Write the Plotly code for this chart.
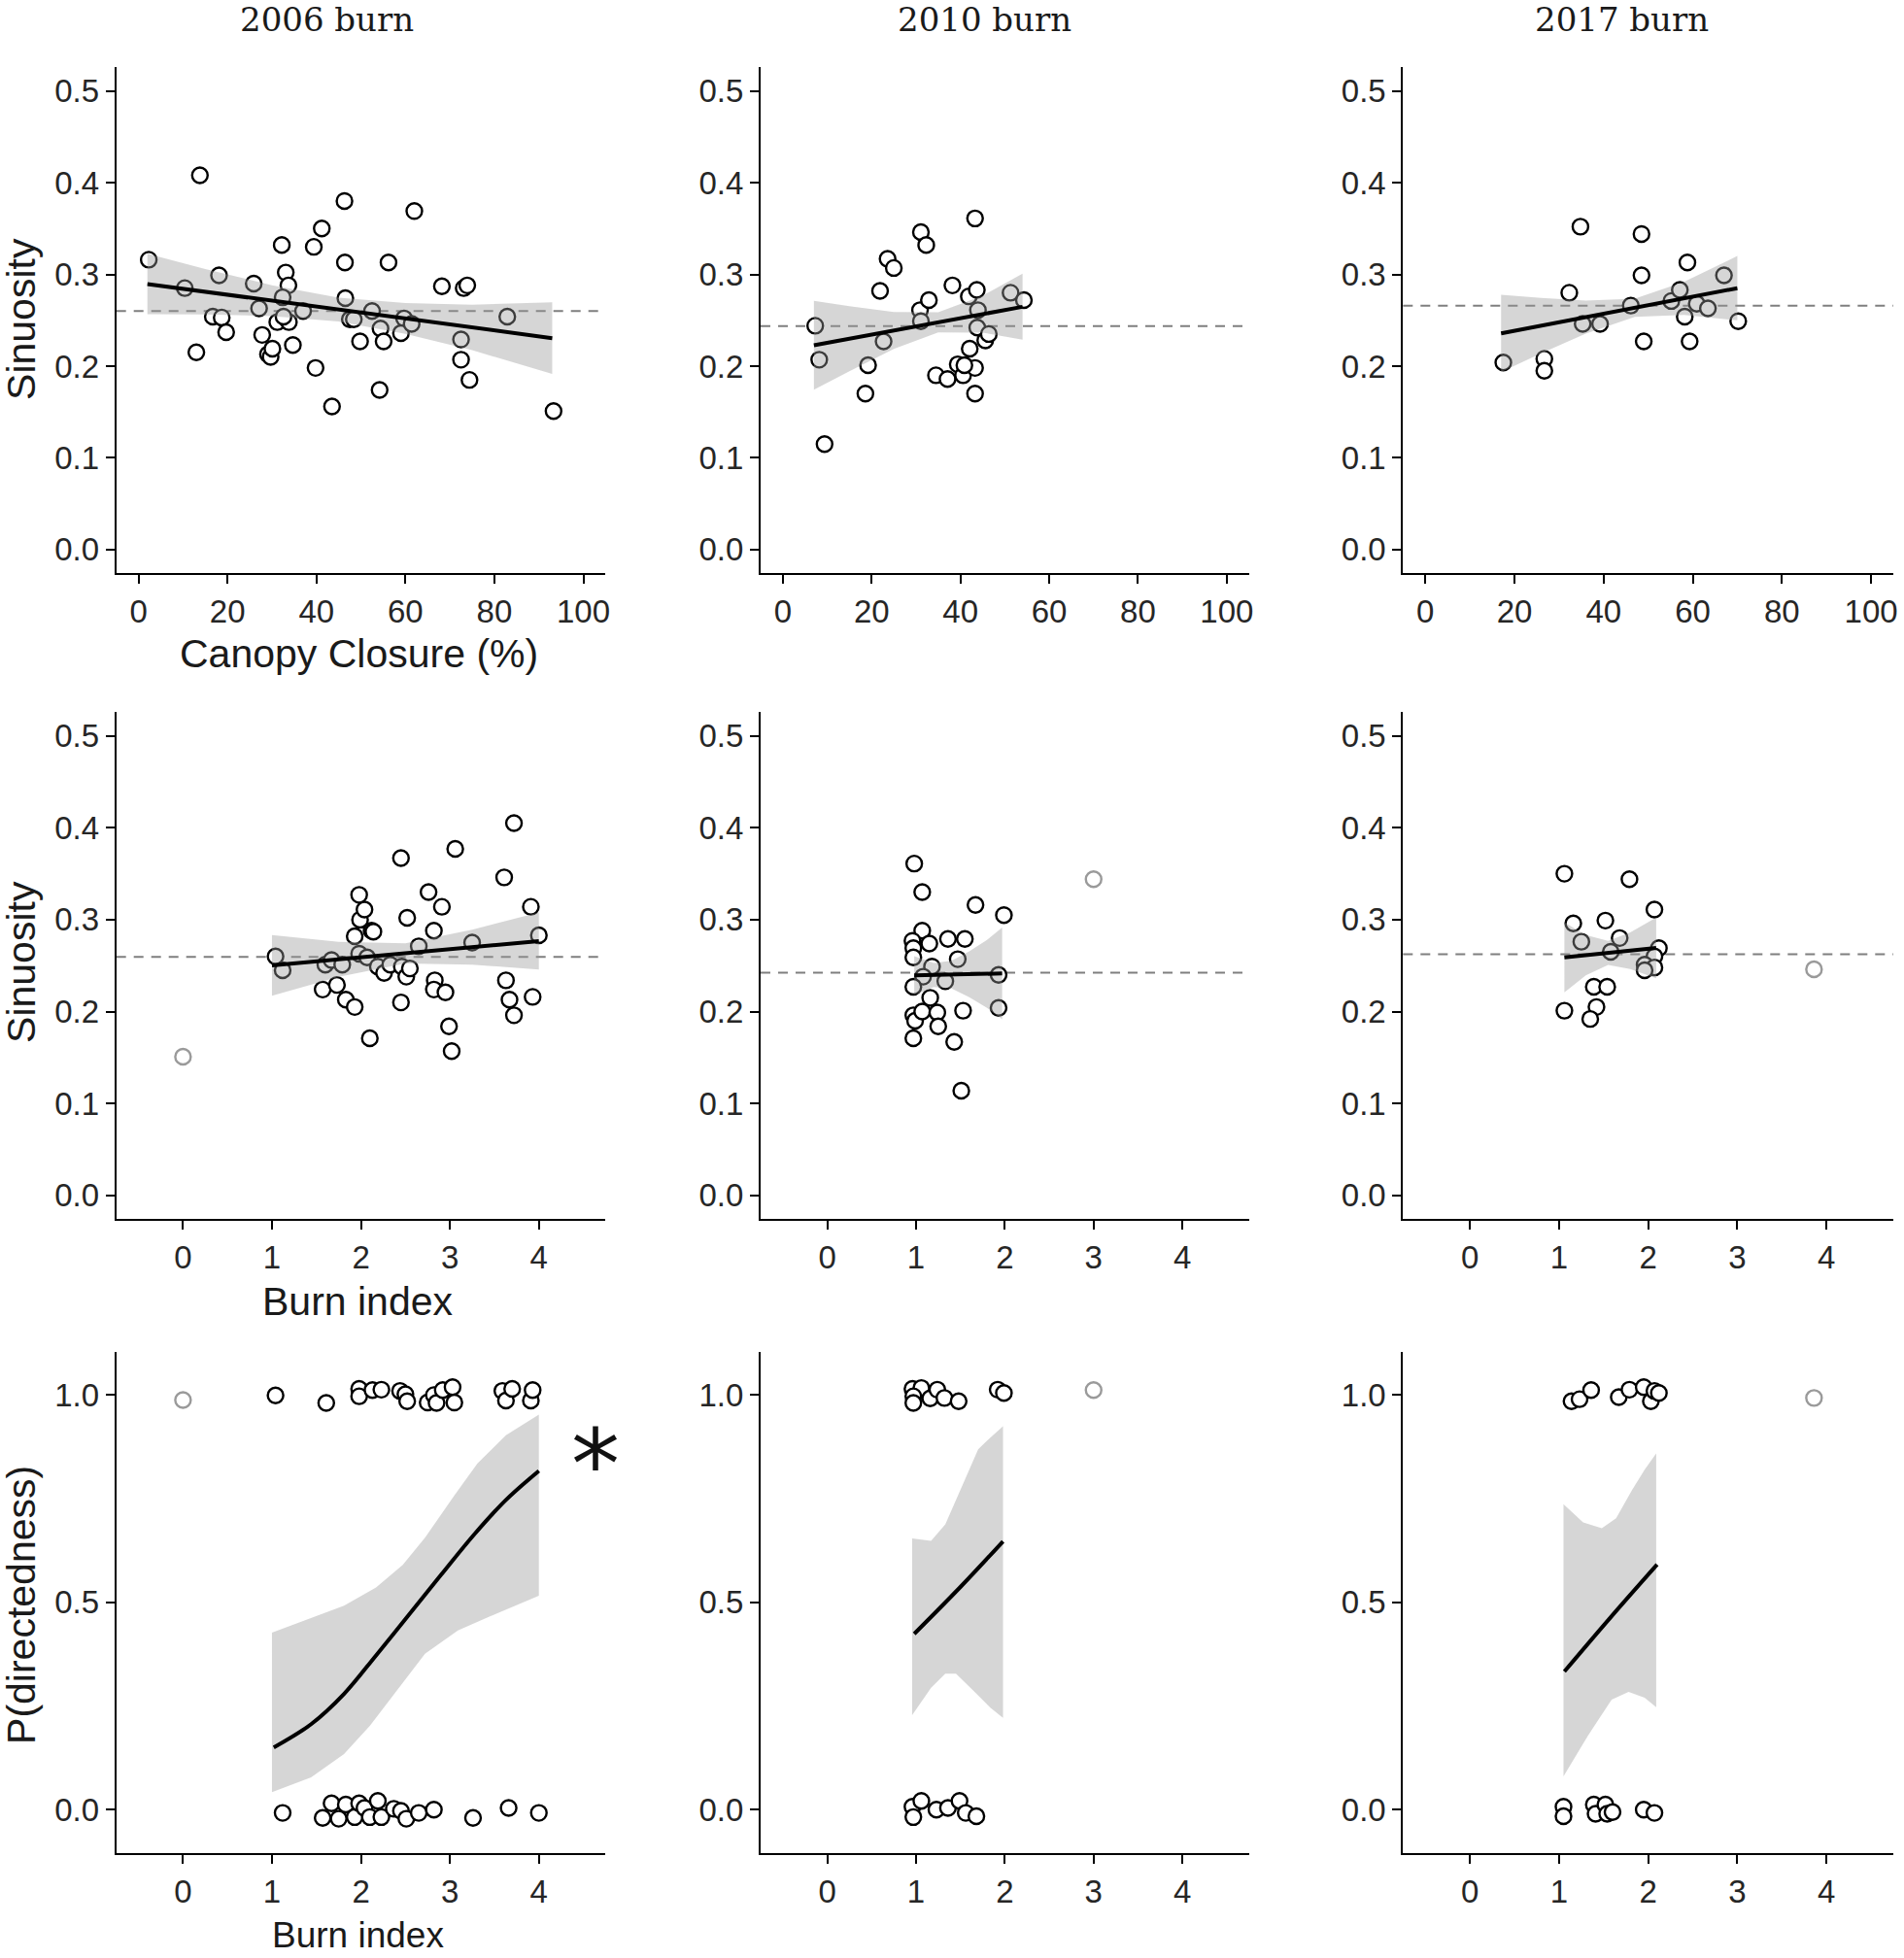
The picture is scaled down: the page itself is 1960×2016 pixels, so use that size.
import plotly.graph_objects as go

# ---------------- DATA ----------------
col_titles = ["2006 burn", "2010 burn", "2017 burn"]

# Row 1: Sinuosity vs Canopy closure (%)
cc06_x = [2.3, 13.8, 10.4, 13.0, 18.1, 16.7, 18.7, 19.7, 25.9, 27.1, 27.8, 29.1, 29.7, 30.1, 32.2, 33.1, 33.7, 32.4, 31.2, 33.8,
          32.6, 34.7, 37.0, 39.4, 41.2, 39.8, 43.5, 46.3, 46.4, 46.5, 47.5, 48.4, 49.8, 52.5, 54.2, 54.4, 55.1, 56.2, 59.7, 59.0,
          61.4, 62.0, 68.2, 73.1, 73.9, 72.5, 72.5, 74.4, 82.9, 93.3]
cc06_y = [0.316, 0.408, 0.285, 0.215, 0.299, 0.254, 0.253, 0.237, 0.290, 0.263, 0.234, 0.213, 0.210, 0.219, 0.332, 0.302, 0.288, 0.275, 0.248, 0.248,
          0.254, 0.223, 0.260, 0.330, 0.350, 0.198, 0.156, 0.380, 0.313, 0.274, 0.251, 0.251, 0.227, 0.260, 0.174, 0.241, 0.227, 0.313, 0.252, 0.236,
          0.246, 0.369, 0.287, 0.285, 0.288, 0.229, 0.207, 0.185, 0.254, 0.151]
cc10_x = [7.3, 8.2, 9.4, 18.6, 19.2, 21.9, 22.7, 23.6, 25.0, 30.9, 31.1, 32.3, 32.9, 31.1, 34.5, 37.1, 38.2, 39.4, 40.6, 42.1,
          41.9, 43.3, 43.7, 43.95, 43.8, 43.3, 43.3, 45.6, 46.4, 51.3, 54.3, 40.9]
cc10_y = [0.244, 0.207, 0.115, 0.170, 0.201, 0.282, 0.227, 0.317, 0.307, 0.261, 0.346, 0.332, 0.272, 0.249, 0.190, 0.186, 0.288, 0.202, 0.190, 0.219,
          0.276, 0.361, 0.283, 0.261, 0.242, 0.198, 0.170, 0.228, 0.235, 0.280, 0.272, 0.201]
cc17_x = [17.5, 26.7, 26.7, 32.3, 34.8, 35.3, 39.2, 46.1, 48.5, 48.5, 49.0, 55.2, 57.1, 58.2, 58.8, 59.3, 60.9, 63.4, 67.0, 70.2]
cc17_y = [0.204, 0.208, 0.195, 0.280, 0.352, 0.246, 0.246, 0.266, 0.344, 0.299, 0.227, 0.271, 0.283, 0.254, 0.313, 0.227, 0.268, 0.263, 0.299, 0.249]

# fitted line + 95% band
cc06_fit_x = [2, 15, 30, 45, 60, 75, 93]
cc06_fit_y = [0.2895, 0.2811, 0.2714, 0.2616, 0.2519, 0.2422, 0.2305]
cc06_hi = [0.3225, 0.3059, 0.2882, 0.2746, 0.2687, 0.2670, 0.2695]
cc06_lo = [0.2565, 0.2563, 0.2546, 0.2486, 0.2351, 0.2174, 0.1915]
cc10_fit_x = [7, 15, 25, 35, 45, 54]
cc10_fit_y = [0.2227, 0.2298, 0.2388, 0.2477, 0.2567, 0.2647]
cc10_hi = [0.2712, 0.2653, 0.2589, 0.2587, 0.2768, 0.3007]
cc10_lo = [0.1742, 0.1943, 0.2187, 0.2367, 0.2366, 0.2287]
cc17_fit_x = [17, 26, 36, 47, 58, 70]
cc17_fit_y = [0.2357, 0.2441, 0.2534, 0.2636, 0.2739, 0.2850]
cc17_hi = [0.2777, 0.2743, 0.2714, 0.2736, 0.2919, 0.3200]
cc17_lo = [0.1937, 0.2139, 0.2354, 0.2536, 0.2559, 0.2500]

# Row 2: Sinuosity vs Burn index
bi06_x = [1.04, 1.12, 1.57, 1.60, 1.67, 1.73, 1.79, 1.83, 1.93, 1.93, 1.98, 1.99, 2.04, 1.98, 2.07, 2.12, 2.14, 2.10, 2.19, 2.26,
          2.33, 2.45, 2.45, 2.46, 2.52, 2.51, 2.55, 2.65, 2.76, 2.82, 2.83, 2.82, 2.91, 2.95, 2.99, 3.02, 3.06, 3.25, 3.61, 3.63,
          3.67, 3.72, 3.72, 3.91, 3.93, 4.00]
bi06_y = [0.260, 0.245, 0.224, 0.251, 0.256, 0.229, 0.251, 0.213, 0.205, 0.282, 0.327, 0.300, 0.311, 0.263, 0.259, 0.288, 0.287, 0.171, 0.249, 0.242,
          0.251, 0.367, 0.210, 0.249, 0.302, 0.238, 0.247, 0.271, 0.330, 0.288, 0.234, 0.224, 0.314, 0.221, 0.184, 0.157, 0.377, 0.275, 0.346, 0.234,
          0.213, 0.196, 0.405, 0.314, 0.216, 0.283]
bi06_out_x = [0.0]
bi06_out_y = [0.151]
bi10_x = [0.98, 1.07, 1.07, 0.96, 0.97, 0.97, 1.15, 1.18, 1.08, 0.97, 1.16, 1.36, 1.33, 1.47, 1.55, 0.97, 0.99, 1.07, 1.24, 1.25,
          0.97, 1.43, 1.53, 1.51, 1.67, 1.99, 1.93, 1.93]
bi10_y = [0.361, 0.330, 0.288, 0.277, 0.269, 0.259, 0.274, 0.249, 0.238, 0.227, 0.215, 0.279, 0.233, 0.257, 0.279, 0.196, 0.190, 0.200, 0.199, 0.184,
          0.171, 0.167, 0.201, 0.114, 0.316, 0.305, 0.240, 0.204]
bi10_out_x = [3.00]
bi10_out_y = [0.344]
bi17_x = [1.06, 1.16, 1.25, 1.06, 1.39, 1.42, 1.35, 1.52, 1.54, 1.58, 1.68, 1.79, 2.07, 2.12, 2.07, 1.96, 2.07, 1.96]
bi17_y = [0.350, 0.296, 0.276, 0.201, 0.227, 0.205, 0.192, 0.299, 0.227, 0.265, 0.280, 0.344, 0.311, 0.269, 0.260, 0.251, 0.248, 0.245]
bi17_out_x = [3.86]
bi17_out_y = [0.246]

bi06_fit_x = [1.0, 1.75, 2.5, 3.25, 4.0]
bi06_fit_y = [0.2502, 0.2568, 0.2634, 0.2701, 0.2767]
bi06_hi = [0.2832, 0.2758, 0.2744, 0.2891, 0.3077]
bi06_lo = [0.2172, 0.2378, 0.2524, 0.2511, 0.2457]
bi10_fit_x = [0.98, 1.2, 1.4, 1.6, 1.8, 1.97]
bi10_fit_y = [0.2393, 0.2398, 0.2402, 0.2407, 0.2411, 0.2415]
bi10_hi = [0.2603, 0.2528, 0.2552, 0.2657, 0.2781, 0.2915]
bi10_lo = [0.2183, 0.2268, 0.2252, 0.2157, 0.2041, 0.1915]
bi17_fit_x = [1.06, 1.3, 1.55, 1.8, 2.09]
bi17_fit_y = [0.2589, 0.2613, 0.2638, 0.2663, 0.2692]
bi17_hi = [0.2969, 0.2833, 0.2768, 0.2863, 0.3022]
bi17_lo = [0.2209, 0.2393, 0.2508, 0.2463, 0.2362]

# mean sinuosity (dashed reference lines)
mean_sin_row1 = [0.260, 0.2436, 0.2659]
mean_sin_row2 = [0.2594, 0.2424, 0.2625]

# Row 3: P(directedness) vs Burn index (jittered 0/1 outcomes)
dir06_x = [1.04, 1.61, 1.98, 1.98, 2.13, 2.23, 2.44, 2.50, 2.52, 2.75, 2.82, 2.85, 2.92, 3.03, 3.05, 3.59, 3.63, 3.70, 3.91, 3.93,
           1.12, 1.57, 1.67, 1.75, 1.83, 1.93, 1.98, 2.04, 2.10, 2.19, 2.23, 2.37, 2.45, 2.51, 2.65, 2.82, 3.26, 3.66, 4.00]
dir06_y = [0.999, 0.981, 1.015, 0.997, 1.012, 1.013, 1.010, 1.002, 0.985, 0.982, 1.000, 0.981, 1.012, 1.019, 0.982, 1.010, 0.987, 1.015, 0.987, 1.012,
           -0.008, -0.020, 0.015, -0.022, 0.012, -0.018, 0.015, 0.004, -0.018, 0.021, -0.018, 0.002, -0.003, -0.022, -0.008, 0.000, -0.020, 0.004, -0.008]
dir06_out_x = [0.0]
dir06_out_y = [0.988]
dir10_x = [0.96, 1.06, 0.97, 0.97, 1.16, 1.24, 1.32, 1.48, 1.92, 1.99,
           0.96, 0.97, 1.06, 1.23, 1.36, 1.49, 1.56, 1.68]
dir10_y = [1.015, 1.017, 0.997, 0.981, 0.992, 1.013, 0.993, 0.985, 1.013, 1.005,
           0.007, -0.018, 0.021, 0.000, 0.004, 0.021, -0.008, -0.016]
dir10_out_x = [3.00]
dir10_out_y = [1.012]
dir17_x = [1.14, 1.23, 1.36, 1.67, 1.79, 1.95, 2.03, 2.07, 2.12,
           1.05, 1.05, 1.39, 1.41, 1.52, 1.54, 1.60, 1.95, 2.07]
dir17_y = [0.985, 0.990, 1.012, 0.995, 1.013, 1.019, 0.985, 1.010, 1.005,
           0.007, -0.016, 0.012, -0.010, 0.012, -0.010, -0.006, 0.000, -0.008]
dir17_out_x = [3.86]
dir17_out_y = [0.993]

dir06_fit_x = [1.02, 1.44, 1.81, 2.17, 2.54, 2.90, 3.27, 3.63, 4.00]
dir06_fit_y = [0.150, 0.206, 0.279, 0.372, 0.470, 0.566, 0.663, 0.747, 0.817]
dir06_hi_x = [1.0, 1.44, 1.81, 2.17, 2.47, 2.72, 3.05, 3.31, 3.63, 4.00]
dir06_hi = [0.427, 0.463, 0.492, 0.536, 0.590, 0.656, 0.758, 0.835, 0.903, 0.953]
dir06_lo_x = [1.0, 1.44, 1.81, 2.10, 2.36, 2.72, 3.09, 3.45, 4.00]
dir06_lo = [0.042, 0.078, 0.134, 0.202, 0.276, 0.376, 0.432, 0.466, 0.516]

dir10_fit_x = [0.98, 1.5, 1.98]
dir10_fit_y = [0.424, 0.537, 0.647]
dir10_hi_x = [0.956, 1.17, 1.33, 1.52, 1.70, 1.84, 1.98]
dir10_hi = [0.654, 0.648, 0.688, 0.781, 0.869, 0.898, 0.925]
dir10_lo_x = [0.956, 1.17, 1.33, 1.45, 1.66, 1.84, 1.98]
dir10_lo = [0.228, 0.294, 0.328, 0.328, 0.284, 0.245, 0.221]

dir17_fit_x = [1.06, 1.58, 2.10]
dir17_fit_y = [0.333, 0.464, 0.591]
dir17_hi_x = [1.05, 1.27, 1.48, 1.64, 1.82, 1.96, 2.09]
dir17_hi = [0.737, 0.693, 0.679, 0.703, 0.771, 0.820, 0.859]
dir17_lo_x = [1.05, 1.32, 1.59, 1.78, 1.96, 2.09]
dir17_lo = [0.080, 0.177, 0.265, 0.284, 0.270, 0.247]

cc_ticks = [0, 20, 40, 60, 80, 100]
bi_ticks = [0, 1, 2, 3, 4]
sin_ticks = [0.0, 0.1, 0.2, 0.3, 0.4, 0.5]
dir_ticks = [0.0, 0.5, 1.0]

# ---------------- LAYOUT GEOMETRY ----------------
W, H = 1960, 2016
COLS = [(120, 625), (785, 1289), (1448, 1954)]
ROWS = [(69, 590), (733, 1255), (1392, 1908)]

RIBBON = "rgba(153,153,153,0.4)"
PT = "black"
PT_OUT = "#9a9a9a"
TICKFONT = dict(family="Liberation Sans, Arial, sans-serif", size=33, color="#262626")
TITLEFONT = dict(family="Liberation Sans, Arial, sans-serif", size=41, color="#1a1a1a")

fig = go.Figure()


def ax(k):
    return ("x" if k == 1 else f"x{k}"), ("y" if k == 1 else f"y{k}")


def add_points(k, xs, ys, color):
    xa, ya = ax(k)
    fig.add_trace(go.Scatter(x=xs, y=ys, mode="markers", xaxis=xa, yaxis=ya, showlegend=False,
                             marker=dict(symbol="circle", size=16, color="white",
                                         line=dict(color=color, width=2.4))))


def add_band(k, x_hi, hi, x_lo, lo):
    xa, ya = ax(k)
    fig.add_trace(go.Scatter(x=list(x_hi) + list(x_lo)[::-1], y=list(hi) + list(lo)[::-1],
                             mode="lines", fill="toself", fillcolor=RIBBON, line=dict(width=0),
                             xaxis=xa, yaxis=ya, showlegend=False, hoverinfo="skip"))


def add_fit(k, xs, ys, smooth=False):
    xa, ya = ax(k)
    fig.add_trace(go.Scatter(x=xs, y=ys, mode="lines", xaxis=xa, yaxis=ya, showlegend=False,
                             line=dict(color="black", width=4, shape="spline" if smooth else "linear")))


panels = [
    # row 1
    dict(pts=(cc06_x, cc06_y), out=None, band=(cc06_fit_x, cc06_hi, cc06_fit_x, cc06_lo), fit=(cc06_fit_x, cc06_fit_y), mean=mean_sin_row1[0]),
    dict(pts=(cc10_x, cc10_y), out=None, band=(cc10_fit_x, cc10_hi, cc10_fit_x, cc10_lo), fit=(cc10_fit_x, cc10_fit_y), mean=mean_sin_row1[1]),
    dict(pts=(cc17_x, cc17_y), out=None, band=(cc17_fit_x, cc17_hi, cc17_fit_x, cc17_lo), fit=(cc17_fit_x, cc17_fit_y), mean=mean_sin_row1[2]),
    # row 2
    dict(pts=(bi06_x, bi06_y), out=(bi06_out_x, bi06_out_y), band=(bi06_fit_x, bi06_hi, bi06_fit_x, bi06_lo), fit=(bi06_fit_x, bi06_fit_y), mean=mean_sin_row2[0]),
    dict(pts=(bi10_x, bi10_y), out=(bi10_out_x, bi10_out_y), band=(bi10_fit_x, bi10_hi, bi10_fit_x, bi10_lo), fit=(bi10_fit_x, bi10_fit_y), mean=mean_sin_row2[1]),
    dict(pts=(bi17_x, bi17_y), out=(bi17_out_x, bi17_out_y), band=(bi17_fit_x, bi17_hi, bi17_fit_x, bi17_lo), fit=(bi17_fit_x, bi17_fit_y), mean=mean_sin_row2[2]),
    # row 3
    dict(pts=(dir06_x, dir06_y), out=(dir06_out_x, dir06_out_y), band=(dir06_hi_x, dir06_hi, dir06_lo_x, dir06_lo), fit=(dir06_fit_x, dir06_fit_y), mean=None, smooth=True),
    dict(pts=(dir10_x, dir10_y), out=(dir10_out_x, dir10_out_y), band=(dir10_hi_x, dir10_hi, dir10_lo_x, dir10_lo), fit=(dir10_fit_x, dir10_fit_y), mean=None, smooth=True),
    dict(pts=(dir17_x, dir17_y), out=(dir17_out_x, dir17_out_y), band=(dir17_hi_x, dir17_hi, dir17_lo_x, dir17_lo), fit=(dir17_fit_x, dir17_fit_y), mean=None, smooth=True),
]

layout_axes = {}
for i, p in enumerate(panels):
    r, c = divmod(i, 3)
    k = i + 1
    if p["out"] is not None:
        add_points(k, p["out"][0], p["out"][1], PT_OUT)
    add_points(k, p["pts"][0], p["pts"][1], PT)
    add_band(k, *p["band"])
    add_fit(k, *p["fit"], smooth=p.get("smooth", False))

    x0, x1 = COLS[c]
    y0, y1 = ROWS[r]
    if r == 0:
        xr, xt = [-5, 105], cc_ticks
    else:
        xr, xt = [-0.75, 4.75], bi_ticks
    if r < 2:
        yr, yt = [-0.0255, 0.526], sin_ticks
    else:
        yr, yt = [-0.105, 1.104], dir_ticks
    common = dict(showline=True, linecolor="black", linewidth=2, ticks="outside", ticklen=9,
                  tickwidth=2, tickcolor="black", showgrid=False, zeroline=False,
                  tickfont=TICKFONT, fixedrange=True)
    xa_name = "xaxis" if k == 1 else f"xaxis{k}"
    ya_name = "yaxis" if k == 1 else f"yaxis{k}"
    layout_axes[xa_name] = dict(domain=[x0 / W, x1 / W], range=xr, tickvals=xt,
                                anchor=ax(k)[1], **common)
    layout_axes[ya_name] = dict(domain=[1 - y1 / H, 1 - y0 / H], range=yr, tickvals=yt,
                                tickformat=".1f", anchor=ax(k)[0], **common)
    if p["mean"] is not None:
        fig.add_shape(type="line", xref=f"{ax(k)[0]} domain", yref=ax(k)[1], x0=0, x1=1,
                      y0=p["mean"], y1=p["mean"], layer="below",
                      line=dict(color="#7f7f7f", width=2, dash="10px,8px"))

fig.update_layout(**layout_axes)

annos = []


def pa(x, y, text, font, angle=0):
    annos.append(dict(x=x / W, y=1 - y / H, xref="paper", yref="paper", text=text, showarrow=False,
                      xanchor="center", yanchor="middle", textangle=angle, font=font))


TFONT = dict(family="DejaVu Serif, serif", size=34, color="#1a1a1a")
for (cx, t) in zip([337, 1016, 1674], col_titles):
    pa(cx, 20, t, TFONT)

pa(22, 328, "Sinuosity", TITLEFONT, -90)
pa(22, 990, "Sinuosity", TITLEFONT, -90)
pa(22, 1652, "P(directedness)", TITLEFONT, -90)
pa(370, 673, "Canopy Closure (%)", TITLEFONT)
pa(369, 1340, "Burn index", TITLEFONT)
pa(369, 1992, "Burn index", dict(TITLEFONT, size=37))
pa(615, 1508, "*", dict(family="DejaVu Sans, sans-serif", size=100, color="#111111"))

fig.update_layout(annotations=annos, width=W, height=H, autosize=False,
                  margin=dict(l=0, r=0, t=0, b=0), paper_bgcolor="white", plot_bgcolor="white",
                  showlegend=False)

fig.write_html("out.html", config={"displayModeBar": False},
               post_script="document.body.style.margin='0px';document.body.style.overflow='hidden';")
